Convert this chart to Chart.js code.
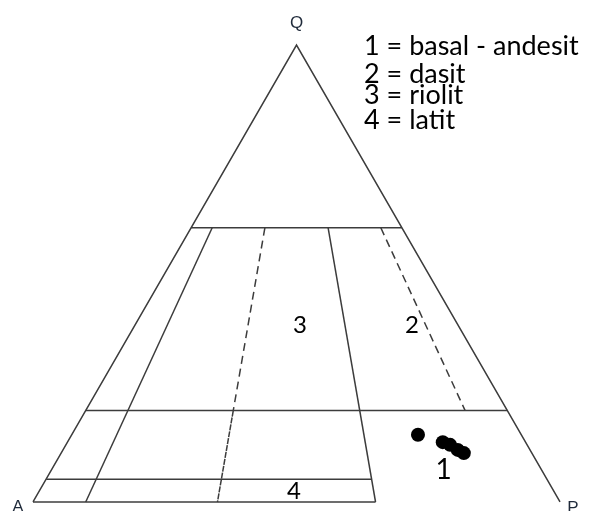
<!DOCTYPE html>
<html>
<head>
<meta charset="utf-8">
<script src="https://cdn.jsdelivr.net/npm/chart.js"></script>
<style>
  html, body { margin: 0; padding: 0; background: #fff; }
  canvas { display: block; }
</style>
</head>
<body>
<canvas id="qap" width="590" height="511"></canvas>
<script>
// samples, in percent of Q, A, P
const sampleQ = [14.7, 13.1, 12.5, 11.4, 10.7];
const sampleA = [19.6, 15.7, 14.6, 13.7, 12.9];
const sampleP = [65.7, 71.2, 72.9, 74.9, 76.4];

// field boundaries: Q levels and P/(A+P) ratios
const qLevels = [60, 20, 5];
const ratios = [0.10, 0.35, 0.65, 0.90];

// field numbers, placed by Q and P/(A+P)
const fieldNames = ["1", "2", "3", "4"];
const fieldQ = [7, 38.7, 38.7, 2.4];
const fieldR = [0.80, 0.857, 0.511, 0.495];

const legendLines = ["1 = basal - andesit", "2 = dasit", "3 = riolit", "4 = latit"];
const cornerNames = ["Q", "A", "P"];

// ternary -> plot coords (x: 0 at A, 100 at P; y: Q%)
function pt(q, r) {
  return { x: q / 2 + (100 - q) * r, y: q };
}
function seg(q1, r1, q2, r2) {
  return [pt(q1, r1), pt(q2, r2)];
}

const lineColor = "#3c3c3c";
function lineSet(data, dash) {
  return {
    data: data,
    showLine: true,
    borderColor: lineColor,
    borderWidth: 1.5,
    borderDash: dash || [],
    pointRadius: 0,
    tension: 0,
    fill: false
  };
}

const samples = sampleQ.map(function (q, i) {
  const s = q + sampleA[i] + sampleP[i];
  return { x: (sampleP[i] + q / 2) / s * 100, y: q / s * 100 };
});

const datasets = [
  lineSet([pt(0, 0), pt(100, 0), pt(0, 1)]),           // A - Q - P
  lineSet(seg(0, 0, 0, ratios[2])),                     // bottom edge, part
  lineSet(seg(qLevels[0], 0, qLevels[0], 1)),
  lineSet(seg(qLevels[1], 0, qLevels[1], 1)),
  lineSet(seg(qLevels[2], 0, qLevels[2], ratios[2])),
  lineSet(seg(qLevels[0], ratios[0], 0, ratios[0])),
  lineSet(seg(qLevels[0], ratios[1], qLevels[1], ratios[1]), [8, 5]),
  lineSet(seg(qLevels[1], ratios[1], 0, ratios[1]), [6, 1]),
  lineSet(seg(qLevels[0], ratios[2], 0, ratios[2])),
  lineSet(seg(qLevels[0], ratios[3], qLevels[1], ratios[3]), [8, 5]),
  {
    data: samples,
    showLine: false,
    pointRadius: 7,
    pointHoverRadius: 7,
    backgroundColor: "#000",
    borderColor: "#000",
    borderWidth: 0
  }
];

const textPlugin = {
  id: "qapText",
  afterDraw: function (chart) {
    const ctx = chart.ctx;
    const xs = chart.scales.x, ys = chart.scales.y;
    const px = function (p) { return [xs.getPixelForValue(p.x), ys.getPixelForValue(p.y)]; };
    ctx.save();
    ctx.textAlign = "center";
    ctx.textBaseline = "middle";

    // corner labels
    ctx.fillStyle = "#1f2a3a";
    ctx.font = "17px 'Liberation Sans', Arial, sans-serif";
    const corners = [pt(100, 0), pt(0, 0), pt(0, 1)];
    const offs = [[0, -22], [-15, 5], [13, 6]];
    corners.forEach(function (c, i) {
      const p = px(c);
      ctx.fillText(cornerNames[i], p[0] + offs[i][0], p[1] + offs[i][1]);
    });

    // field numbers
    ctx.fillStyle = "#000";
    fieldNames.forEach(function (n, i) {
      const p = px(pt(fieldQ[i], fieldR[i]));
      ctx.font = (n === "1" ? "28px" : "24px") + " Lato, 'Open Sans', sans-serif";
      ctx.fillText(n, p[0], p[1]);
    });

    // legend
    ctx.textAlign = "left";
    ctx.textBaseline = "alphabetic";
    ctx.font = "27px Lato, 'Open Sans', sans-serif";
    const baselines = [55, 83, 104, 129];
    legendLines.forEach(function (t, i) {
      ctx.fillText(t, 364, baselines[i]);
    });
    ctx.restore();
  }
};

new Chart(document.getElementById("qap"), {
  type: "scatter",
  data: { datasets: datasets },
  options: {
    responsive: false,
    animation: false,
    clip: false,
    layout: { padding: 0, autoPadding: false },
    plugins: { legend: { display: false }, tooltip: { enabled: false } },
    scales: {
      x: { type: "linear", display: false, min: -6.262, max: 105.69 },
      y: { type: "linear", display: false, min: -1.97, max: 109.85 }
    }
  },
  plugins: [textPlugin]
});
</script>
</body>
</html>
